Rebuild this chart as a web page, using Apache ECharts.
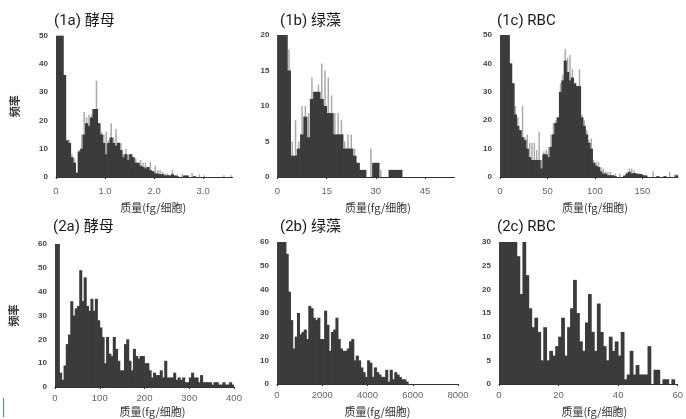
<!DOCTYPE html>
<html><head><meta charset="utf-8">
<script src="https://cdn.jsdelivr.net/npm/echarts@6/dist/echarts.min.js"></script>
<style>html,body{margin:0;padding:0;background:#fff}#c{width:686px;height:419px}</style>
</head><body><div id="c"></div>
<script>
// ---- data: histogram counts per bin ----
// (1a) yeast, bin width 0.05 fg
const yeast1BinWidth = 0.05;
const yeast1Dark = [50,50,50,36,13,12,7,5,1.5,9, 10,15,19,18,21,24,24,19,15,12, 8,12,14,12,11,12,9.5,7,8,6, 8,7,5,5,4,3.5,3,3.5,2.4,2, 1.2,1.2,1,1,0.5,0.6,0.5,1,0.5,0.3, 0,0,0.5,0.5,0,0,0.3,0,0,0, 0,0,0,0,0,0,0,0,0,0, 0,0];
const yeast1Light = [50,50,50,36,13,13,8,6.5,1.5,9.5, 15,23,21,22,22,24,34,19,16,15, 16,13,19,14,17,12.4,12,8,10,8, 8,7,6.5,5,6,5,5,3.5,5.3,2, 4,2.4,2.4,1.8,1.2,1.2,0.5,2.4,0.5,1, 0,1,0.5,0.5,0,1.4,0.3,0,1,0, 0.6,0,0,0,0,0,0,0,0.6,0, 0,0.6];
// (1b) green algae, bin width 1 fg
const algae1BinWidth = 1;
const algae1Dark = [20,20,20,15,3,3,4,6,8.5,5.6, 11,12,12,11,10,9,9,6,6,6, 4,4,4,3,2,1,1,0,0,2, 2,0,0,0,1,1,1,1];
const algae1Light = [20,20,20,18,5,8,5,10,10,9, 14,12,13,16,15,14,11.5,9,9,8, 5,6,6,4,2,1,1,0,4,2, 2,1,0,0,1,1,1,1];
// (1c) RBC, bin width 2.5 fg
const rbc1BinWidth = 2.5;
const rbc1Dark = [50,50,50,50,40,33,22,18,16.5,14, 13,10,7,6,6,6,6,3,8,8, 7,10.6,15,19,21,30,34,41,37,34, 35,33,32,32,21,18,15,12,10,5, 4,3.5,2,1.2,1.2,0.6,0.6,0.6,0.3,0, 0,0,0.5,1.2,1.8,1.2,1.4,1.2,1,1, 0.6,0.5,0,0,0,0,0.3,0,0,0.3, 0,0,0,0,0.6];
const rbc1Light = [50,50,50,50,40,33,25,21,16.5,25, 14,15,12,12,12,9.5,16,6,9,9.5, 10.6,15,19,20,21,33,36,45,42,43, 38,33,32,38,22,20,16.5,13,13.6,6, 5.3,5.3,3.5,3,2,1.8,1.8,0.6,1.2,0, 1.2,0,0.5,1.8,3,3,2.4,1.2,1.4,1, 0.6,0.5,0,0,2,0,0.3,0,0,0.3, 0,1.8,0,1,1];
// (2a) yeast, bin width 5 fg
const yeast2BinWidth = 5;
const yeast2 = [60,60,6,3,9,18,22,36,30,33, 34,49,36,46,34,32,37,32,37,28, 25,21,10,21,14,13,21,16,11,7, 7,18,20,11,7,16,13,12,13,13, 10,10,7,4,6,5,5,7,4,11, 4,4,4,6,3,4,3,4,2,2, 4,6,4,4,2,5,2,2,2,2, 1,2,2,1,1,2,1,1,2,1];
// (2b) green algae, bin width 100 fg
const algae2BinWidth = 100;
const algae2 = [60,60,60,60,55,39,27,15,20,30, 21,22,23,19,33,32,28,27,28,19, 19,31,25,14,22,23,28,19,15,14, 14,15,18,19,10,12,10,7,5,3, 10,9,3,7,5,4,3,3,6,1, 6,2,5,4,3,2,2,1];
// (2c) RBC, bin width 1 fg
const rbc2BinWidth = 1;
const rbc2 = [30,30,30,30,30,30,27,19,30,23, 16,12,14,11,5,12,5,7,6,8, 10,14,6,12,16,22,15,9,7,13, 19,11,7,17,11,8,5,10,7,9, 6,11,1,2,7,2,4,2,2,2, 8,0,3,3,0,1,1,0,1,0];

// ---- axis tick labels ----
const ticks1a = [0,1,2,3];
const ticks1b = [0,15,30,45];
const ticks1c = [0,50,100,150];
const ticks2a = [0,100,200,300,400];
const ticks2b = [0,2000,4000,6000,8000];
const ticks2c = [0,20,40,60];

const titles = ['(1a) 酵母','(1b) 绿藻','(1c) RBC','(2a) 酵母','(2b) 绿藻','(2c) RBC'];
const xName = '质量(fg/细胞)';
const yName = '频率';

// ---- build ----
const DARK = '#3b3b3b', LIGHT = '#a8a8a8';
function toBins(counts, w){ return counts.map((c,i)=>[i*w,(i+1)*w,c]); }

// layer: [data, colour, fraction of bin width drawn]
const panels = [
  {grid:{left:56,top:35.5,width:176.5,height:141.5}, xMax:3.6, ticks:ticks1a, fmt:v=>v===0?'0':v.toFixed(1), yMax:50, yInt:10,
   layers:[[toBins(yeast1Light,yeast1BinWidth),LIGHT,0.6],[toBins(yeast1Dark,yeast1BinWidth),DARK,1]], tl:[54,12], shift:9, gap:25, lm:9, yName:true},
  {grid:{left:277.5,top:35,width:177,height:142}, xMax:54, ticks:ticks1b, fmt:v=>String(v), yMax:20, yInt:5,
   layers:[[toBins(algae1Light,algae1BinWidth),LIGHT,0.45],[toBins(algae1Dark,algae1BinWidth),DARK,1]], tl:[280,12], shift:12, gap:25, lm:9},
  {grid:{left:500,top:35,width:178,height:142}, xMax:187.5, ticks:ticks1c, fmt:v=>String(v), yMax:50, yInt:10,
   layers:[[toBins(rbc1Light,rbc1BinWidth),LIGHT,0.6],[toBins(rbc1Dark,rbc1BinWidth),DARK,1]], tl:[497,12], shift:6, gap:25, lm:9},
  {grid:{left:55,top:244,width:179,height:143}, xMax:400, ticks:ticks2a, fmt:v=>String(v), yMax:60, yInt:10,
   layers:[[toBins(yeast2,yeast2BinWidth),DARK,1]], tl:[53,218], shift:8, gap:19, lm:6, yName:true},
  {grid:{left:277,top:242,width:181,height:142}, xMax:8000, ticks:ticks2b, fmt:v=>String(v), yMax:60, yInt:10,
   layers:[[toBins(algae2,algae2BinWidth),DARK,1]], tl:[280,218], shift:10, gap:22, lm:6},
  {grid:{left:499,top:242,width:181,height:142}, xMax:60, ticks:ticks2c, fmt:v=>String(v), yMax:30, yInt:5,
   layers:[[toBins(rbc2,rbc2BinWidth),DARK,1]], tl:[497,218], shift:6, gap:22, lm:6}
];

const option = {animation:false, backgroundColor:'#fff', title:[], grid:[], xAxis:[], yAxis:[], series:[],
  graphic:[{type:'line', shape:{x1:3.5,y1:398,x2:3.5,y2:417}, style:{stroke:'#3d8fdc', lineWidth:1.2}}]};

panels.forEach((p,i)=>{
  option.title.push({text:titles[i], left:p.tl[0], top:p.tl[1], padding:0,
    textStyle:{fontSize:15, fontWeight:'normal', color:'#1a1a1a', lineHeight:18, fontFamily:'Roboto, "Noto Sans CJK SC", sans-serif'}});
  option.grid.push(Object.assign({containLabel:false}, p.grid));
  option.xAxis.push({type:'value', gridIndex:i, min:0, max:p.xMax,
    name:xName, nameLocation:'middle', nameGap:p.gap,
    nameTextStyle:{fontSize:11, color:'#333', fontFamily:'"Noto Sans CJK SC", sans-serif', padding:[0,0,0,2*p.shift]},
    axisLine:{show:true, onZero:false, lineStyle:{color:'#333', width:1}},
    axisTick:{show:true, length:2, customValues:p.ticks, lineStyle:{color:'#333'}},
    axisLabel:{customValues:p.ticks, formatter:p.fmt, fontSize:9.5, color:'#666', margin:p.lm, fontFamily:'"Liberation Sans", Arial, sans-serif'},
    splitLine:{show:false}});
  option.yAxis.push({type:'value', gridIndex:i, min:0, max:p.yMax, interval:p.yInt,
    name: p.yName ? yName : '', nameLocation:'middle', nameGap:36, nameRotate:90,
    nameTextStyle:{fontSize:11, fontWeight:'bold', color:'#333', fontFamily:'"Noto Sans CJK SC", sans-serif'},
    axisLine:{show:false}, axisTick:{show:false}, splitLine:{show:false},
    axisLabel:{fontSize:8, fontWeight:'bold', color:'#444', margin:8, fontFamily:'"Liberation Sans", Arial, sans-serif'}});
  p.layers.forEach(([data,color,frac])=>{
    option.series.push({type:'custom', xAxisIndex:i, yAxisIndex:i, clip:true, silent:true,
      encode:{x:[0,1], y:2}, data:data,
      renderItem:function(params, api){
        const a = api.coord([api.value(0), 0]);
        const b = api.coord([api.value(1), api.value(2)]);
        const w = b[0]-a[0];
        const pad = frac < 1 ? w*(1-frac)/2 : -0.4;
        return {type:'rect', shape:{x:a[0]+pad, y:b[1], width:w-2*pad, height:a[1]-b[1]},
          style:{fill:color}};
      }});
  });
});

const chart = echarts.init(document.getElementById('c'), null, {renderer:'canvas'});
chart.setOption(option);
</script></body></html>
